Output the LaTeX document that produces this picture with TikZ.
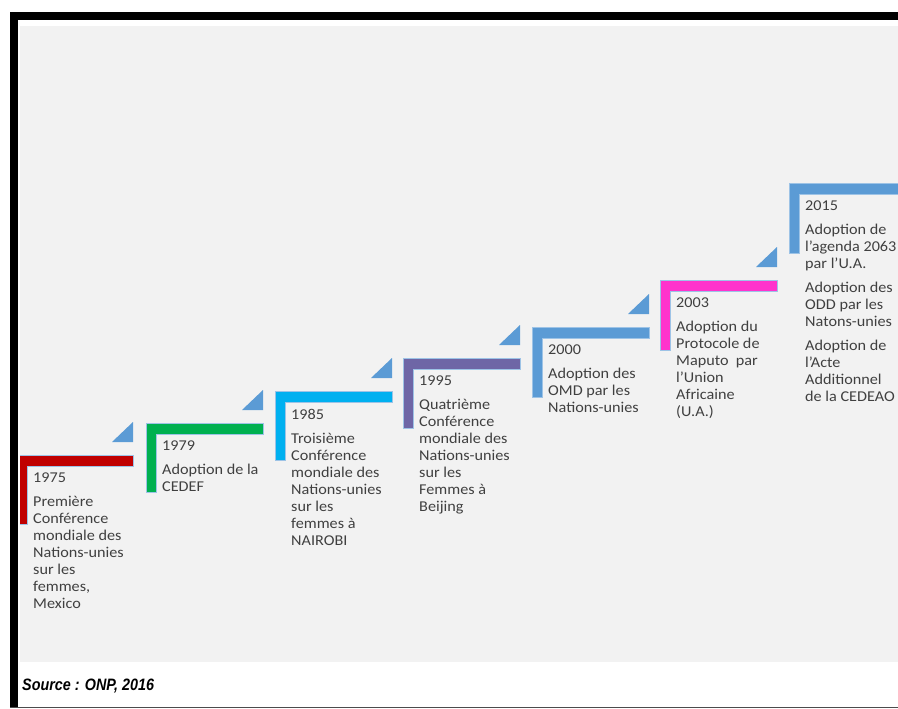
\documentclass[tikz,border=0pt]{standalone}
\usepackage{fontspec}
\setmainfont{Carlito}[FakeStretch=1.08]
\newfontfamily\srcfont{Liberation Sans}[FakeStretch=0.87]
\usepackage{tikz}
\usetikzlibrary{positioning}
\definecolor{panelgray}{RGB}{242,242,242}
\definecolor{textgray}{RGB}{64,64,64}
\definecolor{edgeblue}{RGB}{157,195,230}
\definecolor{stepred}{RGB}{192,0,0}
\definecolor{stepgreen}{RGB}{0,176,80}
\definecolor{stepcyan}{RGB}{0,176,240}
\definecolor{steppurple}{RGB}{110,102,166}
\definecolor{stepblue}{RGB}{91,155,213}
\definecolor{steppink}{RGB}{255,51,204}
\tikzset{
  stepbar/.style={draw=edgeblue,line width=0.6pt},
  stepcorner/.style={fill=stepblue},
  milestone/.style={anchor=north west,inner sep=0pt,align=left,text=textgray,font=\fontsize{15}{17}\selectfont},
  frame/.style={fill=black}
}

\begin{document}
\begin{tikzpicture}[x=1pt,y=-1pt]
\useasboundingbox (0,0) rectangle (898,709);
\clip (0,0) rectangle (898,709);
\fill[white] (0,0) rectangle (898,709);
\fill[panelgray] (20,26) rectangle (898,662);
% steps
\filldraw[stepbar,fill=stepred] (17,455) -- ++(116,0) -- ++(0,11) -- ++(-106,0) -- ++(0,58) -- ++(-10,0) -- cycle;
\filldraw[stepbar,fill=stepgreen] (146,423) -- ++(117,0) -- ++(0,11) -- ++(-107,0) -- ++(0,58) -- ++(-10,0) -- cycle;
\filldraw[stepbar,fill=stepcyan] (275,391) -- ++(117,0) -- ++(0,11) -- ++(-107,0) -- ++(0,58) -- ++(-10,0) -- cycle;
\filldraw[stepbar,fill=steppurple] (403,358) -- ++(117,0) -- ++(0,11) -- ++(-107,0) -- ++(0,59) -- ++(-10,0) -- cycle;
\filldraw[stepbar,fill=stepblue] (532,327) -- ++(117,0) -- ++(0,11) -- ++(-107,0) -- ++(0,59) -- ++(-10,0) -- cycle;
\filldraw[stepbar,fill=steppink] (660,280) -- ++(117,0) -- ++(0,11) -- ++(-107,0) -- ++(0,59) -- ++(-10,0) -- cycle;
\filldraw[stepbar,fill=stepblue] (789,183) -- ++(117,0) -- ++(0,11) -- ++(-107,0) -- ++(0,59) -- ++(-10,0) -- cycle;
% corners
\fill[stepcorner] (112,442) -- ++(21,0) -- ++(0,-20) -- cycle;
\fill[stepcorner] (242,410) -- ++(21,0) -- ++(0,-20) -- cycle;
\fill[stepcorner] (371,378) -- ++(21,0) -- ++(0,-20) -- cycle;
\fill[stepcorner] (499,345) -- ++(21,0) -- ++(0,-20) -- cycle;
\fill[stepcorner] (628,314) -- ++(21,0) -- ++(0,-20) -- cycle;
\fill[stepcorner] (756,267) -- ++(21,0) -- ++(0,-20) -- cycle;
% texts
\node[milestone] (m1975) at (33,473) {1975\\[7pt]Première\\Conférence\\mondiale des\\Nations-unies\\sur les\\femmes,\\Mexico};
\node[milestone] (m1979) at (162,441) {1979\\[7pt]Adoption de la\\CEDEF};
\node[milestone] (m1985) at (291,409) {1985\\[7pt]Troisième\\Conférence\\mondiale des\\Nations-unies\\sur les\\femmes à\\NAIROBI};
\node[milestone] (m1995) at (419,376) {1995\\[7pt]Quatrième\\Conférence\\mondiale des\\Nations-unies\\sur les\\Femmes à\\Beijing};
\node[milestone] (m2000) at (548,345) {2000\\[7pt]Adoption des\\OMD par les\\Nations-unies};
\node[milestone] (m2003) at (676,298) {2003\\[7pt]Adoption du\\Protocole de\\Maputo\ \ par\\l'Union\\Africaine\\(U.A.)};
\node[milestone] (m2015) at (805,201) {2015\\[7pt]Adoption de\\l'agenda 2063\\par l'U.A.\\[7pt]Adoption des\\ODD par les\\Natons-unies\\[7pt]Adoption de\\l'Acte\\Additionnel\\de la CEDEAO};
% frame
\fill[white] (18,20) rectangle (898,26);
\fill[white] (18,20) rectangle (20,662);
\fill[frame] (10,12) rectangle (898,20);
\fill[frame] (10,12) rectangle (18,707);
\draw[black!70,line width=1pt] (10,707) -- (898,707);
\node[anchor=base west,inner sep=0pt,font=\srcfont\bfseries\itshape\fontsize{16.5}{18}\selectfont] (source) at (22,690) {Source : ONP, 2016};
\end{tikzpicture}
\end{document}
